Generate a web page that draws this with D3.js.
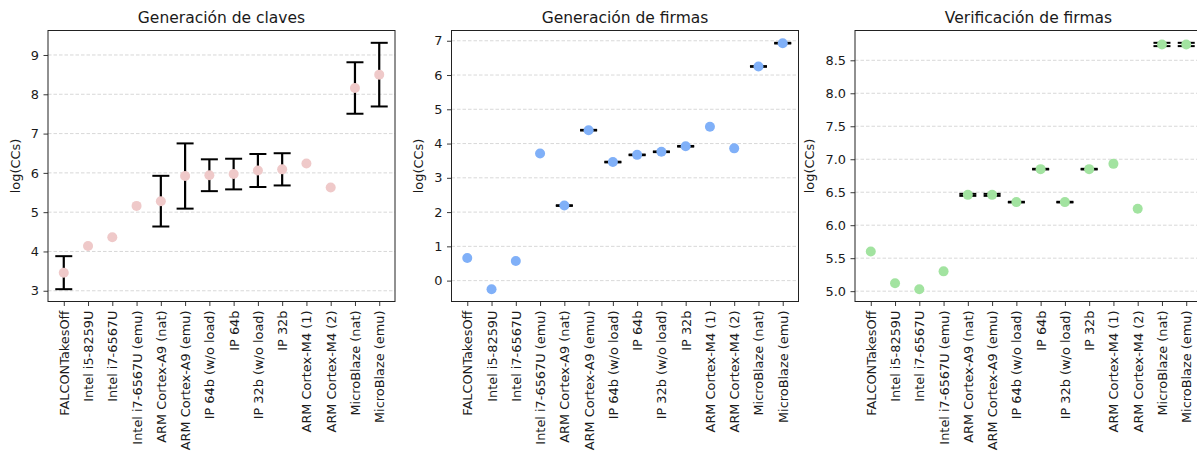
<!DOCTYPE html>
<html>
<head>
<meta charset="utf-8">
<script src="https://cdn.jsdelivr.net/npm/d3@7"></script>
<style>
  html, body { margin: 0; padding: 0; background: #fff; }
  svg { display: block; font-family: "DejaVu Sans", sans-serif; }
</style>
</head>
<body>
<svg id="chart" width="1197" height="455"></svg>
<script>
const categories = [
  "FALCONTakesOff", "Intel i5-8259U", "Intel i7-6567U", "Intel i7-6567U (emu)",
  "ARM Cortex-A9 (nat)", "ARM Cortex-A9 (emu)", "IP 64b (w/o load)", "IP 64b",
  "IP 32b (w/o load)", "IP 32b", "ARM Cortex-M4 (1)", "ARM Cortex-M4 (2)",
  "MicroBlaze (nat)", "MicroBlaze (emu)"
];

const keygenMean = [3.46, 4.14, 4.36, 5.16, 5.28, 5.92, 5.94, 5.97, 6.06, 6.09, 6.24, 5.63, 8.16, 8.50];
const keygenErr  = [0.42, null, null, null, 0.645, 0.83, 0.405, 0.39, 0.42, 0.41, null, null, 0.655, 0.81];

const signMean = [0.66, -0.25, 0.57, 3.71, 2.19, 4.39, 3.46, 3.67, 3.76, 3.92, 4.49, 3.86, 6.25, 6.93];
const signErr  = [null, null, null, null, 0.01, 0.01, 0.01, 0.01, 0.01, 0.01, null, null, 0.01, 0.01];

const verifMean = [5.60, 5.12, 5.03, 5.30, 6.46, 6.46, 6.35, 6.85, 6.35, 6.85, 6.93, 6.25, 8.74, 8.74];
const verifErr  = [null, null, null, null, 0.015, 0.015, 0.005, 0.005, 0.005, 0.005, null, null, 0.025, 0.025];

const keygenTicks = [3, 4, 5, 6, 7, 8, 9];
const signTicks = [0, 1, 2, 3, 4, 5, 6, 7];
const verifTicks = [5.0, 5.5, 6.0, 6.5, 7.0, 7.5, 8.0, 8.5];

(function () {
const panels = [
  { title: "Generación de claves", mean: keygenMean, err: keygenErr, ticks: keygenTicks, fmt: d3.format("d"), color: "#efc9c9", left: 48 },
  { title: "Generación de firmas", mean: signMean, err: signErr, ticks: signTicks, fmt: d3.format("d"), color: "#80b0f8", left: 451.5 },
  { title: "Verificación de firmas", mean: verifMean, err: verifErr, ticks: verifTicks, fmt: d3.format(".1f"), color: "#a2e3a0", left: 855 }
];

const svg = d3.select("#chart");
const plotTop = 30.5, plotBottom = 301.5, plotWidth = 347;
const tickFont = 12.9, titleFont = 15.5;
const textColor = "#1a1a1a";

panels.forEach(p => {
  const g = svg.append("g").attr("transform", `translate(${p.left},0)`);

  const x = d3.scaleLinear().domain([-0.65, categories.length - 1 + 0.65]).range([0, plotWidth]);
  const lows = p.mean.map((m, i) => m - (p.err[i] || 0));
  const highs = p.mean.map((m, i) => m + (p.err[i] || 0));
  const lo = d3.min(lows), hi = d3.max(highs);
  const pad = (hi - lo) * 0.05;
  const y = d3.scaleLinear().domain([lo - pad, hi + pad]).range([plotBottom, plotTop]);

  // grid
  g.append("g").selectAll("line").data(p.ticks).join("line")
    .attr("x1", 0).attr("x2", plotWidth)
    .attr("y1", d => y(d)).attr("y2", d => y(d))
    .attr("stroke", "#d4d4d4").attr("stroke-width", 0.9)
    .attr("stroke-dasharray", "3.5,2");

  // y axis
  const yAxis = g.append("g")
    .call(d3.axisLeft(y).tickValues(p.ticks).tickFormat(p.fmt).tickSize(4.5).tickPadding(4.5));
  yAxis.select(".domain").remove();
  yAxis.selectAll("line").attr("stroke", "#222").attr("stroke-width", 0.9);
  yAxis.selectAll("text").attr("font-size", tickFont).attr("fill", textColor)
    .attr("font-family", "DejaVu Sans, sans-serif");

  // x axis
  const xAxis = g.append("g").attr("transform", `translate(0,${plotBottom})`)
    .call(d3.axisBottom(x).tickValues(d3.range(categories.length)).tickFormat(i => categories[i]).tickSize(4.5).tickPadding(4.5));
  xAxis.select(".domain").remove();
  xAxis.selectAll("line").attr("stroke", "#222").attr("stroke-width", 0.9);
  xAxis.selectAll("text")
    .attr("font-size", tickFont).attr("fill", textColor)
    .attr("font-family", "DejaVu Sans, sans-serif")
    .attr("transform", "rotate(-90)")
    .attr("text-anchor", "end")
    .attr("x", -9).attr("y", 0).attr("dy", "0.35em");

  // error bars
  const eb = g.append("g").selectAll("g")
    .data(p.mean.map((m, i) => ({ i, m, e: p.err[i] })).filter(d => d.e !== null))
    .join("g");
  eb.append("line")
    .attr("x1", d => x(d.i)).attr("x2", d => x(d.i))
    .attr("y1", d => y(d.m - d.e)).attr("y2", d => y(d.m + d.e))
    .attr("stroke", "#000").attr("stroke-width", 2.2);
  eb.append("line")
    .attr("x1", d => x(d.i) - 8.5).attr("x2", d => x(d.i) + 8.5)
    .attr("y1", d => y(d.m - d.e)).attr("y2", d => y(d.m - d.e))
    .attr("stroke", "#000").attr("stroke-width", 2);
  eb.append("line")
    .attr("x1", d => x(d.i) - 8.5).attr("x2", d => x(d.i) + 8.5)
    .attr("y1", d => y(d.m + d.e)).attr("y2", d => y(d.m + d.e))
    .attr("stroke", "#000").attr("stroke-width", 2);

  // points
  g.append("g").selectAll("circle").data(p.mean).join("circle")
    .attr("cx", (d, i) => x(i)).attr("cy", d => y(d))
    .attr("r", 5).attr("fill", p.color);

  // frame
  g.append("rect").attr("x", 0).attr("y", plotTop).attr("width", plotWidth).attr("height", plotBottom - plotTop)
    .attr("fill", "none").attr("stroke", "#222").attr("stroke-width", 1);

  // title
  g.append("text").attr("x", plotWidth / 2).attr("y", plotTop - 8)
    .attr("text-anchor", "middle").attr("font-size", titleFont).attr("fill", textColor)
    .text(p.title);

  // y label
  let maxW = 0;
  yAxis.selectAll("text").each(function () { maxW = Math.max(maxW, this.getBBox().width); });
  const lx = -9 - maxW - 5 - 6;
  g.append("text")
    .attr("transform", `translate(${lx},${(plotTop + plotBottom) / 2}) rotate(-90)`)
    .attr("text-anchor", "middle").attr("font-size", tickFont).attr("fill", textColor)
    .text("log(CCs)");
});
})();
</script>
</body>
</html>
